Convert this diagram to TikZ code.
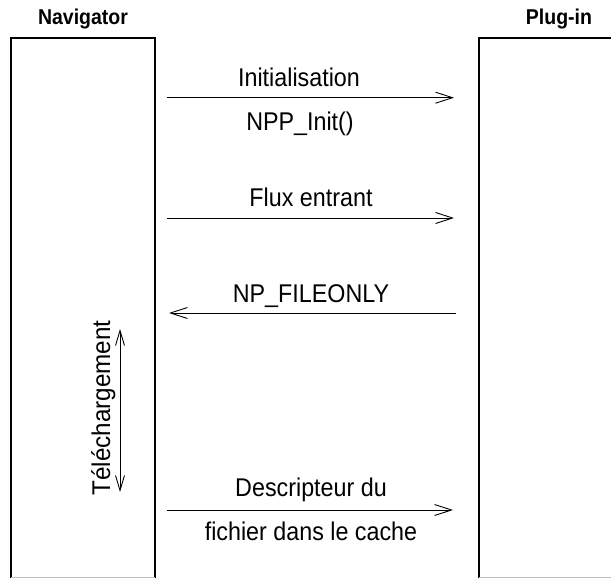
\documentclass[tikz,border=0pt]{standalone}
\usepackage{fontspec}
\setmainfont{Liberation Sans}
\usetikzlibrary{arrows.meta}
\newcommand{\tallt}[1]{\scalebox{1}[1.1]{#1}}
\tikzset{
  lane/.style={line width=1.2pt, draw=black},
  msg/.style={line width=0.9pt, -{Straight Barb[length=17pt,width=11pt,line width=0.9pt]}},
  dbl/.style={line width=0.9pt, {Straight Barb[length=15pt,width=9pt,line width=0.9pt]}-{Straight Barb[length=15pt,width=9pt,line width=0.9pt]}},
  lbl/.style={font=\fontsize{23.3}{27}\selectfont, inner sep=0pt, anchor=base},
  ttl/.style={font=\fontsize{19.5}{23}\selectfont\bfseries, inner sep=0pt, anchor=base}
}
\begin{document}
\begin{tikzpicture}[x=1pt,y=-1pt]
\useasboundingbox (0,0) rectangle (611,578);
% lanes
\draw[lane] (11,577.5) -- (11,38) -- (155,38) -- (155,577.5);
\draw[lane] (479,577.5) -- (479,38) -- (612,38);
\draw[gray!50, line width=1pt] (11,577.5) -- (155,577.5);
\draw[gray!50, line width=1pt] (479,577.5) -- (611,577.5);
% titles
\node[ttl] (nav) at (83,25) {\tallt{Navigator}};
\node[ttl] (plug) at (559,25) {\tallt{Plug-in}};
% message coordinates
\coordinate (a1s) at (167,97.7); \coordinate (a1e) at (454,97.7);
\coordinate (a2s) at (167,218); \coordinate (a2e) at (454,218);
\coordinate (a3s) at (456,313); \coordinate (a3e) at (169,313);
\coordinate (a4s) at (167,510); \coordinate (a4e) at (453,510);
\coordinate (d1) at (120,329); \coordinate (d2) at (120,492);
\draw[msg] (a1s) -- (a1e);
\draw[msg] (a2s) -- (a2e);
\draw[msg] (a3s) -- (a3e);
\draw[msg] (a4s) -- (a4e);
\draw[dbl] (d1) -- (d2);
% labels
\node[lbl] (l1) at (299,87) {\tallt{Initialisation}};
\node[lbl] (l1b) at (300,130) {\tallt{NPP\_Init()}};
\node[lbl] (l2) at (311,206) {\tallt{Flux entrant}};
\node[lbl] (l3) at (311,302) {\tallt{NP\_FILEONLY}};
\node[lbl] (l4) at (311,496) {\tallt{Descripteur du}};
\node[lbl] (l4b) at (311,540) {\tallt{fichier dans le cache}};
\node[lbl, rotate=90] (l5) at (110,408) {\scalebox{1.04}[1.1]{Téléchargement}};
\end{tikzpicture}
\end{document}
